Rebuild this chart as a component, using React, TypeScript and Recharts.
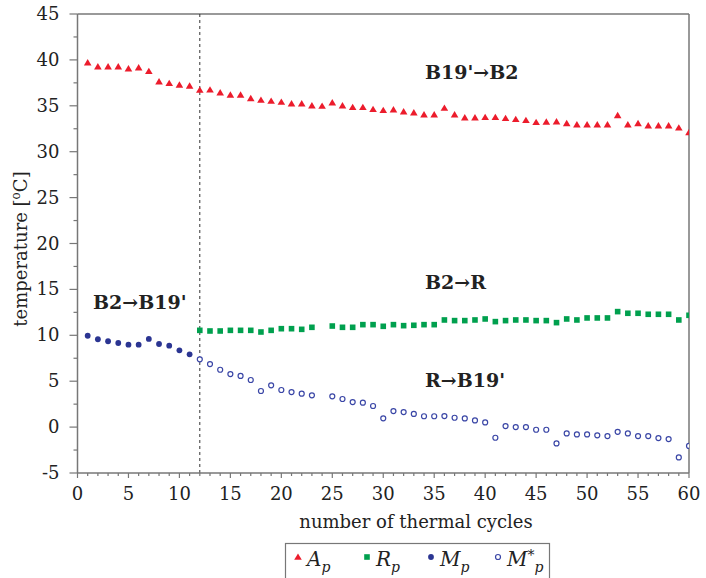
import React from "react";
import { ComposedChart, Scatter, XAxis, YAxis, ReferenceLine } from "recharts";

// cycle numbers and temperatures
const apCycles = [1, 2, 3, 4, 5, 6, 7, 8, 9, 10, 11, 12, 13, 14, 15, 16, 17, 18, 19, 20, 21, 22, 23, 24, 25, 26, 27, 28, 29, 30, 31, 32, 33, 34, 35, 36, 37, 38, 39, 40, 41, 42, 43, 44, 45, 46, 47, 48, 49, 50, 51, 52, 53, 54, 55, 56, 57, 58, 59, 60];
const apTemps = [39.7, 39.26, 39.26, 39.26, 39.04, 39.15, 38.76, 37.63, 37.45, 37.27, 37.16, 36.72, 36.75, 36.43, 36.18, 36.18, 35.8, 35.63, 35.52, 35.41, 35.23, 35.23, 35.01, 34.98, 35.34, 35.01, 34.84, 34.84, 34.62, 34.51, 34.58, 34.36, 34.25, 34.03, 34.03, 34.76, 34.03, 33.71, 33.71, 33.75, 33.75, 33.64, 33.53, 33.42, 33.2, 33.24, 33.27, 33.09, 32.94, 32.94, 32.94, 32.94, 33.96, 32.94, 33.09, 32.83, 32.83, 32.83, 32.61, 32.11];

const rpCycles = [12, 13, 14, 15, 16, 17, 18, 19, 20, 21, 22, 23, 25, 26, 27, 28, 29, 30, 31, 32, 33, 34, 35, 36, 37, 38, 39, 40, 41, 42, 43, 44, 45, 46, 47, 48, 49, 50, 51, 52, 53, 54, 55, 56, 57, 58, 59, 60];
const rpTemps = [10.54, 10.47, 10.47, 10.54, 10.54, 10.54, 10.36, 10.54, 10.72, 10.72, 10.65, 10.87, 11.01, 10.87, 10.87, 11.16, 11.16, 10.98, 11.16, 11.05, 11.09, 11.16, 11.16, 11.67, 11.6, 11.6, 11.67, 11.78, 11.49, 11.6, 11.67, 11.67, 11.6, 11.6, 11.38, 11.78, 11.67, 11.89, 11.89, 11.89, 12.58, 12.4, 12.4, 12.29, 12.29, 12.29, 11.67, 12.18];

const mpCycles = [1, 2, 3, 4, 5, 6, 7, 8, 9, 10, 11];
const mpTemps = [9.95, 9.57, 9.35, 9.16, 8.98, 8.98, 9.6, 9.05, 8.87, 8.36, 7.93];

const msCycles = [12, 13, 14, 15, 16, 17, 18, 19, 20, 21, 22, 23, 25, 26, 27, 28, 29, 30, 31, 32, 33, 34, 35, 36, 37, 38, 39, 40, 41, 42, 43, 44, 45, 46, 47, 48, 49, 50, 51, 52, 53, 54, 55, 56, 57, 58, 59, 60];
const msTemps = [7.38, 6.87, 6.25, 5.78, 5.57, 5.13, 3.93, 4.55, 4.04, 3.82, 3.64, 3.46, 3.35, 3.06, 2.73, 2.66, 2.3, 0.96, 1.75, 1.64, 1.43, 1.18, 1.18, 1.2, 1.02, 0.95, 0.73, 0.51, -1.16, 0.11, 0.0, 0.0, -0.29, -0.29, -1.78, -0.69, -0.8, -0.8, -0.9, -0.98, -0.51, -0.69, -0.98, -0.98, -1.2, -1.3, -3.3, -2.05];

const xTicks = [0, 1, 2, 3, 4, 5, 6, 7, 8, 9, 10, 11, 12, 13, 14, 15, 16, 17, 18, 19, 20, 21, 22, 23, 24, 25, 26, 27, 28, 29, 30, 31, 32, 33, 34, 35, 36, 37, 38, 39, 40, 41, 42, 43, 44, 45, 46, 47, 48, 49, 50, 51, 52, 53, 54, 55, 56, 57, 58, 59, 60];
const yTicks = [-5, -2.5, 0, 2.5, 5, 7.5, 10, 12.5, 15, 17.5, 20, 22.5, 25, 27.5, 30, 32.5, 35, 37.5, 40, 42.5, 45];

const toPoints = (xs: number[], ys: number[]) => xs.map((x, i) => ({ x, y: ys[i] }));

const FONT = "DejaVu Serif";
const AXIS = "#777";
const RED = "#ec1c2c";
const GREEN = "#00a04e";
const NAVY = "#2b3592";
const OPEN = "#3a46a6";

const Triangle = (p: any) => (
  <polygon points={`${p.cx},${p.cy - 3.6} ${p.cx - 3.8},${p.cy + 2.8} ${p.cx + 3.8},${p.cy + 2.8}`} fill={RED} />
);
const Square = (p: any) => <rect x={p.cx - 2.8} y={p.cy - 2.8} width={5.6} height={5.6} fill={GREEN} />;
const Dot = (p: any) => <circle cx={p.cx} cy={p.cy} r={2.9} fill={NAVY} />;
const Ring = (p: any) => <circle cx={p.cx} cy={p.cy} r={2.5} fill="#fff" stroke={OPEN} strokeWidth={1.2} />;

const XTick = (props: any) => {
  const { x, y, payload } = props;
  const major = payload.value % 5 === 0;
  return (
    <g>
      <line x1={x} x2={x} y1={y} y2={y + (major ? 5 : 3)} stroke={AXIS} strokeWidth={1.2} />
      {major && (
        <text x={x} y={y + 27} textAnchor="middle" fontFamily={FONT} fontSize={18} fill="#222">
          {payload.value}
        </text>
      )}
    </g>
  );
};

const YTick = (props: any) => {
  const { x, y, payload } = props;
  const major = payload.value % 5 === 0;
  return (
    <g>
      <line x1={x - (major ? 8 : 4)} x2={x} y1={y} y2={y} stroke={AXIS} strokeWidth={1.2} />
      {major && (
        <text x={x - 18} y={y + 6} textAnchor="end" fontFamily={FONT} fontSize={18} fill="#222">
          {payload.value}
        </text>
      )}
    </g>
  );
};

const legendItems = [
  { name: "A", sup: "", x: 298, shape: "tri" },
  { name: "R", sup: "", x: 367, shape: "sq" },
  { name: "M", sup: "", x: 431, shape: "dot" },
  { name: "M", sup: "*", x: 498, shape: "ring" },
];

const marker = (shape: string, cx: number, cy: number) => {
  if (shape === "tri") return <Triangle cx={cx} cy={cy} />;
  if (shape === "sq") return <Square cx={cx} cy={cy} />;
  if (shape === "dot") return <Dot cx={cx} cy={cy} />;
  return <Ring cx={cx} cy={cy} />;
};

const Label = ({ x, y, children }: { x: number; y: number; children: React.ReactNode }) => (
  <text x={x} y={y} fontFamily={FONT} fontWeight="bold" fontSize={19} fill="#222">
    {children}
  </text>
);

export default function App() {
  return (
    <div style={{ position: "absolute", left: 0, top: 0, width: 706, height: 578, background: "#fff" }}>
      <ComposedChart width={706} height={578} margin={{ top: 14, right: 17, bottom: 45, left: 0 }}>
        <XAxis
          type="number"
          dataKey="x"
          domain={[0, 60]}
          ticks={xTicks}
          interval={0}
          tickSize={0}
          tickMargin={0}
          tick={XTick}
          height={60}
          axisLine={{ stroke: AXIS, strokeWidth: 1.5 }}
          allowDataOverflow
        />
        <YAxis
          type="number"
          dataKey="y"
          domain={[-5, 45]}
          ticks={yTicks}
          interval={0}
          tickSize={0}
          tickMargin={0}
          tick={YTick}
          width={77.5}
          axisLine={{ stroke: AXIS, strokeWidth: 1.5 }}
          allowDataOverflow
        />
        <ReferenceLine y={45} stroke={AXIS} strokeWidth={1.5} />
        <ReferenceLine x={60} stroke={AXIS} strokeWidth={1.5} />
        <ReferenceLine x={12} stroke="#333" strokeDasharray="3 3" strokeWidth={1} />
        <Scatter data={toPoints(apCycles, apTemps)} shape={Triangle} isAnimationActive={false} />
        <Scatter data={toPoints(rpCycles, rpTemps)} shape={Square} isAnimationActive={false} />
        <Scatter data={toPoints(mpCycles, mpTemps)} shape={Dot} isAnimationActive={false} />
        <Scatter data={toPoints(msCycles, msTemps)} shape={Ring} isAnimationActive={false} />
      </ComposedChart>
      <svg width={706} height={578} style={{ position: "absolute", left: 0, top: 0, pointerEvents: "none" }}>
        <text
          transform="translate(27,249) rotate(-90)"
          textAnchor="middle"
          fontFamily={FONT}
          fontSize={18}
          fill="#222"
        >
          temperature [<tspan dy={-7} fontSize={12}>o</tspan>
          <tspan dy={7}>C]</tspan>
        </text>
        <text x={416} y={528} textAnchor="middle" fontFamily={FONT} fontSize={18} fill="#222">
          number of thermal cycles
        </text>
        <Label x={425} y={79}>B19'→B2</Label>
        <Label x={425} y={289}>B2→R</Label>
        <Label x={93} y={309}>B2→B19'</Label>
        <Label x={425} y={387}>R→B19'</Label>
        <rect x={285.5} y={543.5} width={264} height={40} fill="#fff" stroke={AXIS} strokeWidth={1.2} />
        {legendItems.map((it) => (
          <g key={it.x}>
            {marker(it.shape, it.x, 557)}
            <text x={it.x + 9} y={566} fontFamily={FONT} fontStyle="italic" fontSize={20} fill="#222">
              {it.name}
              {it.sup && <tspan dy={-6} fontSize={14}>{it.sup}</tspan>}
              <tspan dy={it.sup ? 12 : 6} fontSize={14}>p</tspan>
            </text>
          </g>
        ))}
      </svg>
    </div>
  );
}
